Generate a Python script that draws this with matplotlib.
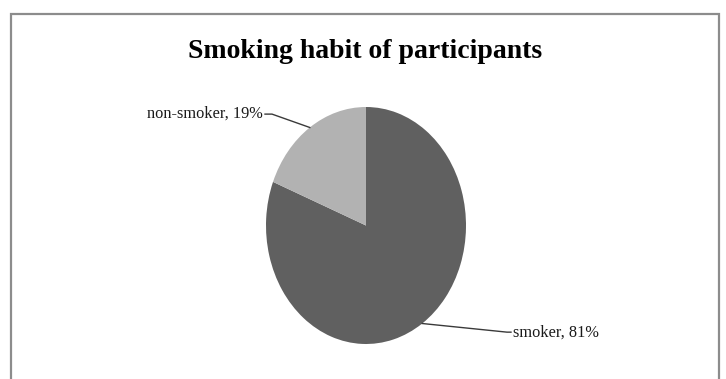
import numpy as np
import matplotlib
matplotlib.use("Agg")
from matplotlib import pyplot as plt
from matplotlib.patches import Rectangle

# data
labels = ['smoker', 'non-smoker']
shares = [81, 19]
colors = ['#606060', '#b2b2b2']
title = 'Smoking habit of participants'

plt.rcParams['font.family'] = ['Liberation Serif', 'DejaVu Serif']

fig = plt.figure(figsize=(7.26, 3.79), dpi=100)
# pie box in pixels: x 266..466, y 107..344 (image is squeezed sideways)
ax = fig.add_axes([266 / 726, 1 - 344 / 379, 200 / 726, 237 / 379])
wedges, _ = ax.pie(shares, colors=colors, startangle=90, counterclock=False,
                   radius=1, wedgeprops=dict(linewidth=0))
ax.set_aspect('auto')
ax.set_xlim(-1, 1)
ax.set_ylim(-1, 1)
ax.axis('off')

# label layout: (text x, text y, elbow x, elbow y, ha)
lay = {'smoker': (1.47, -0.86, 1.41, -0.90, 'left'),
       'non-smoker': (-1.03, 0.965, -0.94, 0.94, 'right')}
for w, lab, v in zip(wedges, labels, shares):
    mid = np.deg2rad((w.theta1 + w.theta2) / 2)
    px, py = np.cos(mid), np.sin(mid)
    tx, ty, ex, ey, ha = lay[lab]
    ax.plot([px, ex, tx + (-0.02 if ha == 'left' else 0.02)],
            [py, ey, ey], color='#3a3a3a', lw=1, clip_on=False)
    ax.text(tx, ey, '%s, %d%%' % (lab, v), ha=ha, va='center',
            fontsize=11.8, color='#1a1a1a', clip_on=False)

fig.text(0.503, 1 - 51 / 379, title, ha='center', va='center',
         fontsize=20, fontweight='bold', color='black')

fig.patches.append(Rectangle((11 / 726, -0.2), (719 - 11) / 726, 1.2 - 14 / 379,
                             transform=fig.transFigure, fill=False,
                             edgecolor='#8c8c8c', lw=1.6))
fig.savefig('out.png', dpi=100)
